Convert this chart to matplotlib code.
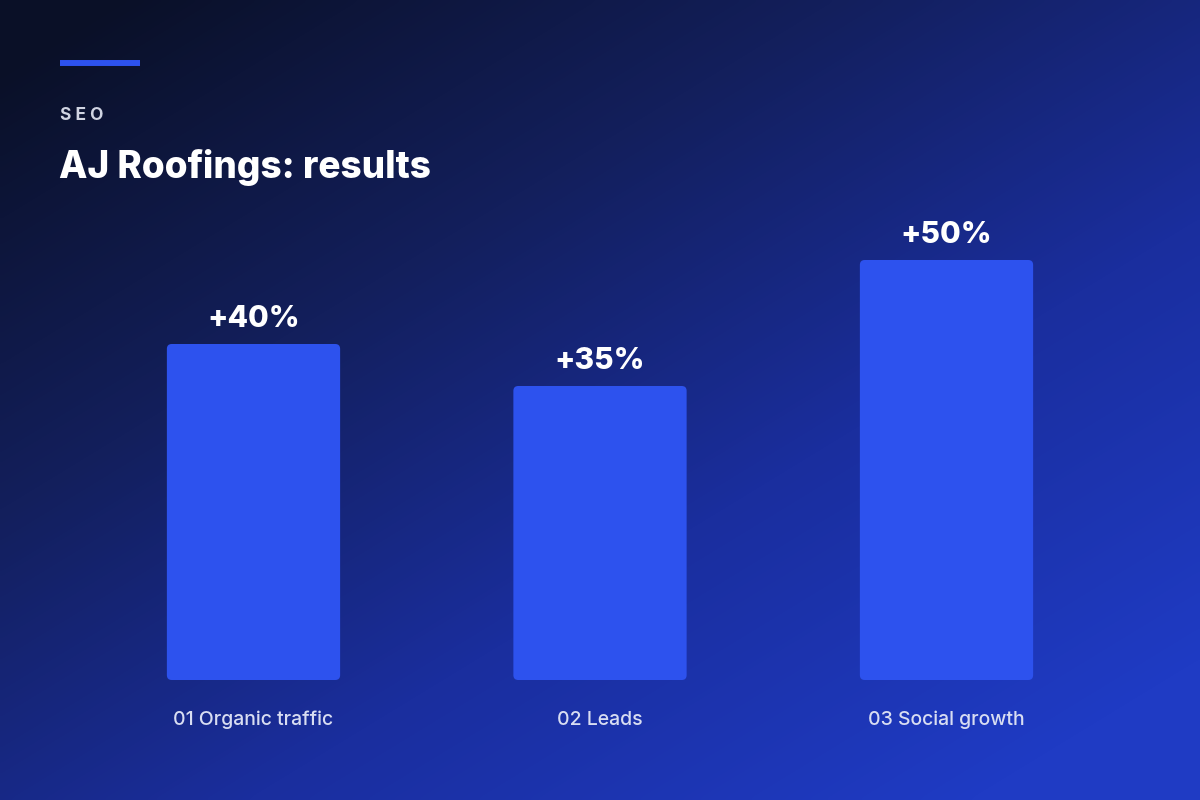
import numpy as np
import matplotlib.pyplot as plt
from matplotlib.patches import FancyBboxPatch
from matplotlib.colors import LinearSegmentedColormap

# Data
categories = ['01 Organic traffic', '02 Leads', '03 Social growth']
values = [40, 35, 50]
value_labels = ['+40%', '+35%', '+50%']

plt.rcParams['font.family'] = ['Inter', 'DejaVu Sans']

fig = plt.figure(figsize=(12, 8), dpi=100)

# Background gradient (dark navy top-left -> blue bottom-right)
bg = fig.add_axes([0, 0, 1, 1])
bg.set_axis_off()
yy, xx = np.mgrid[0:1:200j, 0:1:300j]
t = np.clip(0.55 * xx + 0.6 * yy - 0.05, 0, 1)
cmap = LinearSegmentedColormap.from_list('bg', ['#0a1027', '#131f5c', '#1a2e9e', '#1f3bc4'])
bg.imshow(t, cmap=cmap, aspect='auto', extent=[0, 1, 0, 1], origin='upper',
          interpolation='bicubic')
bg.set_xlim(0, 1)
bg.set_ylim(0, 1)

# Header
bg.plot([60 / 1200, 140 / 1200], [1 - 63 / 800] * 2, color='#2d52ee', lw=4.3,
        solid_capstyle='butt')
fig.text(60 / 1200, 1 - 115 / 800, 'S E O', color='#d0d4e2', fontsize=12.5,
         fontweight='bold', va='center', ha='left')
fig.text(59 / 1200, 1 - 168 / 800, 'AJ Roofings: results', color='white',
         fontsize=26.6, fontweight='heavy', va='center', ha='left')

# Bar axes
ax = fig.add_axes([80.25 / 1200, 120 / 800, 1039.5 / 1200, 504 / 800])
ax.set_xlim(-0.5, 2.5)
ax.set_ylim(0, 60)
ax.set_axis_off()
ax.patch.set_alpha(0)

x = np.arange(len(categories))
bars = ax.bar(x, values, width=0.5, color='#2d52ee')

# swap the plain bars for slightly rounded ones
aspect = (60 / 504) / (3 / 1039.5)
for b in bars:
    b.set_visible(False)
    ax.add_patch(FancyBboxPatch((b.get_x(), b.get_y()), b.get_width(), b.get_height(),
                                boxstyle='round,pad=0,rounding_size=0.014',
                                mutation_aspect=aspect, fc='#2d52ee', ec='none'))

for xi, v, lab in zip(x, values, value_labels):
    ax.annotate(lab, (xi, v), xytext=(0, 8), textcoords='offset points',
                ha='center', va='bottom', color='white', fontsize=21.5, fontweight='heavy')

for xi, cat in zip(x, categories):
    ax.annotate(cat, (xi, 0), xytext=(0, -28.5), textcoords='offset points',
                ha='center', va='center', color='#d8ddf2', fontsize=14, fontweight='medium')

fig.savefig('out.png', dpi=100)
